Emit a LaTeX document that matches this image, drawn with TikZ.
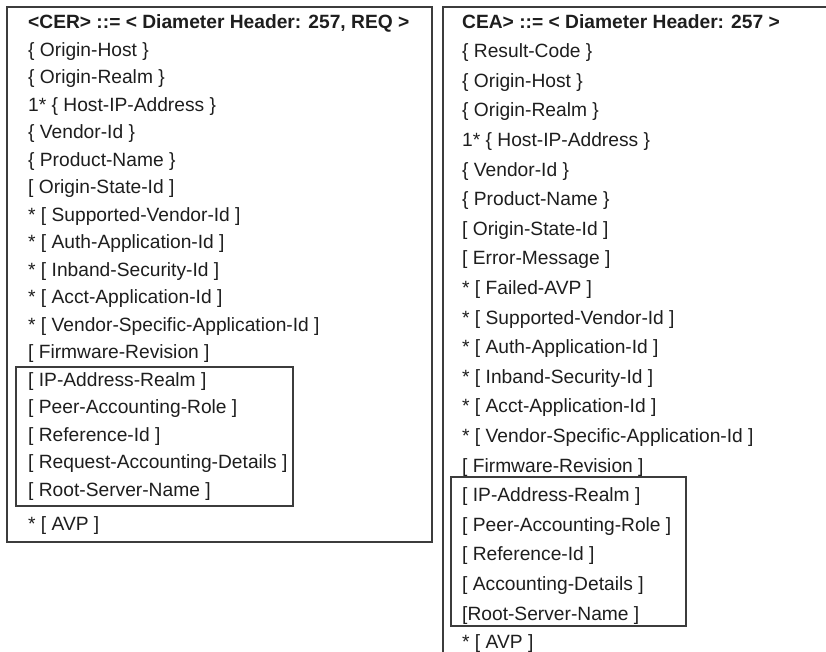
\documentclass[tikz,border=0pt]{standalone}
\usepackage{fontspec}
\setmainfont{Liberation Sans}
\definecolor{ink}{HTML}{1E1E1E}
\definecolor{frame}{HTML}{3C3C3C}
\begin{document}
\begin{tikzpicture}[x=1pt,y=-1pt,
  item/.style={anchor=base west,inner sep=0pt,text=ink,font=\fontsize{19.2}{22}\selectfont},
  head/.style={item,font=\fontsize{19.2}{22}\selectfont\bfseries},
  outer/.style={draw=frame,line width=1.8pt},
  inner/.style={draw=frame,line width=1.3pt}]
\useasboundingbox (0,0) rectangle (826,651);
\clip (0,0) rectangle (826,651);
\fill[white] (0,0) rectangle (826,651);
% frames
\draw[outer] (7,7) rectangle (432,542);
\draw[outer] (443,7) rectangle (900,720);
\draw[inner] (16,367) rectangle (293,506);
\draw[inner] (451,477) rectangle (686,626);
% left column (CER)
\node[head] (l0) at (28,28.5) {<CER> ::= < Diameter Header: 257, REQ >};
\node[item] (l1) at (28,56) {\{ Origin-Host \}};
\node[item] (l2) at (28,83.5) {\{ Origin-Realm \}};
\node[item] (l3) at (28,111) {1* \{ Host-IP-Address \}};
\node[item] (l4) at (28,138.5) {\{ Vendor-Id \}};
\node[item] (l5) at (28,166) {\{ Product-Name \}};
\node[item] (l6) at (28,193.5) {[ Origin-State-Id ]};
\node[item] (l7) at (28,221) {* [ Supported-Vendor-Id ]};
\node[item] (l8) at (28,248.5) {* [ Auth-Application-Id ]};
\node[item] (l9) at (28,276) {* [ Inband-Security-Id ]};
\node[item] (l10) at (28,303.5) {* [ Acct-Application-Id ]};
\node[item] (l11) at (28,331) {* [ Vendor-Specific-Application-Id ]};
\node[item] (l12) at (28,358.5) {[ Firmware-Revision ]};
\node[item] (l13) at (28,386) {[ IP-Address-Realm ]};
\node[item] (l14) at (28,413.5) {[ Peer-Accounting-Role ]};
\node[item] (l15) at (28,441) {[ Reference-Id ]};
\node[item] (l16) at (28,468.5) {[ Request-Accounting-Details ]};
\node[item] (l17) at (28,496) {[ Root-Server-Name ]};
\node[item] (l18) at (28,530) {* [ AVP ]};
% right column (CEA)
\node[head] (r0) at (462,28) {CEA> ::= < Diameter Header: 257 >};
\node[item] (r1) at (462,57.6) {\{ Result-Code \}};
\node[item] (r2) at (462,87.2) {\{ Origin-Host \}};
\node[item] (r3) at (462,116.8) {\{ Origin-Realm \}};
\node[item] (r4) at (462,146.4) {1* \{ Host-IP-Address \}};
\node[item] (r5) at (462,176) {\{ Vendor-Id \}};
\node[item] (r6) at (462,205.6) {\{ Product-Name \}};
\node[item] (r7) at (462,235.2) {[ Origin-State-Id ]};
\node[item] (r8) at (462,264.8) {[ Error-Message ]};
\node[item] (r9) at (462,294.4) {* [ Failed-AVP ]};
\node[item] (r10) at (462,324) {* [ Supported-Vendor-Id ]};
\node[item] (r11) at (462,353.6) {* [ Auth-Application-Id ]};
\node[item] (r12) at (462,383.2) {* [ Inband-Security-Id ]};
\node[item] (r13) at (462,412.8) {* [ Acct-Application-Id ]};
\node[item] (r14) at (462,442.4) {* [ Vendor-Specific-Application-Id ]};
\node[item] (r15) at (462,472) {[ Firmware-Revision ]};
\node[item] (r16) at (462,501.6) {[ IP-Address-Realm ]};
\node[item] (r17) at (462,531.2) {[ Peer-Accounting-Role ]};
\node[item] (r18) at (462,560.8) {[ Reference-Id ]};
\node[item] (r19) at (462,590.4) {[ Accounting-Details ]};
\node[item] (r20) at (462,620) {[Root-Server-Name ]};
\node[item] (r21) at (462,648) {* [ AVP ]};
\end{tikzpicture}
\end{document}
